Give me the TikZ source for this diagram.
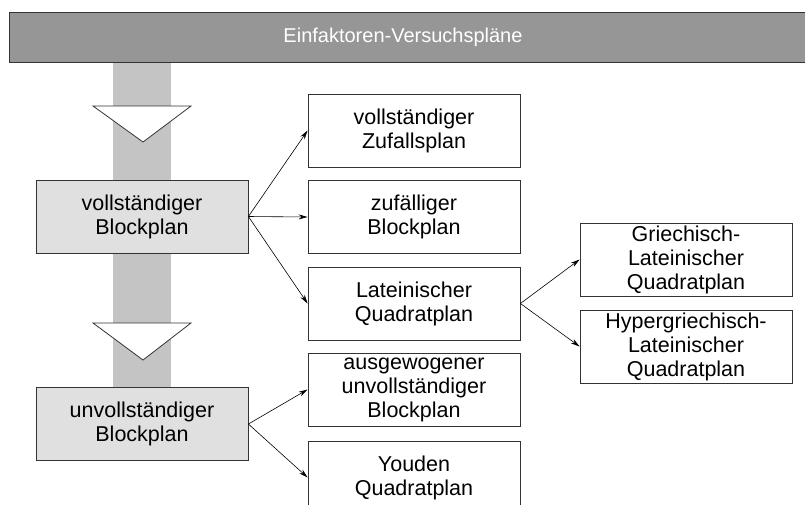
\documentclass[tikz,border=0pt]{standalone}
\usepackage{fontspec}
\setmainfont{Liberation Sans}
\usetikzlibrary{arrows.meta}
\definecolor{barGray}{HTML}{969696}
\definecolor{colGray}{HTML}{C4C4C4}
\definecolor{boxGray}{HTML}{E0E0E0}
\tikzset{
  plan/.style={draw=black!80, line width=0.8pt, fill=white, minimum width=212pt,
    minimum height=73pt, inner sep=0pt, align=center,
    font=\fontsize{21.5}{24}\selectfont},
  mainplan/.style={plan, fill=boxGray},
  down/.style={draw=black!80, line width=0.8pt, fill=white},
  link/.style={-{Stealth[length=9pt,width=5pt]}, line width=0.6pt}
}
\begin{document}
\begin{tikzpicture}[x=1pt, y=-1pt]
      \useasboundingbox (0,0) rectangle (805,504);
      \clip (0,0) rectangle (805,504);
      \fill[colGray] (113,62) rectangle (171,400);
      \draw[draw=black!80, line width=0.8pt, fill=barGray] (9,12) rectangle (815,62);
      \node[text=white, font=\fontsize{20}{23}\selectfont] (title) at (403,37) {Einfaktoren-Versuchspläne};
      \draw[down] (93,106) -- (191,106) -- (143,142) -- cycle;
      \draw[down] (93,323) -- (191,323) -- (143,360) -- cycle;
      \draw
        (142,216.5) node[mainplan] (vbp){vollständiger\\Blockplan}
        (142,424) node[mainplan] (ubp){unvollständiger\\Blockplan}
        (414,130.5) node[plan] (vzp){vollständiger\\Zufallsplan}
        (414,217) node[plan] (zbp){zufälliger\\Blockplan}
        (414,303.5) node[plan] (lqp){Lateinischer\\Quadratplan}
        (414,389.5) node[plan] (aubp){ausgewogener\\unvollständiger\\Blockplan}
        (414,477.5) node[plan] (yqp){Youden\\Quadratplan}
        (686,259.5) node[plan] (glqp){Griechisch-\\Lateinischer\\Quadratplan}
        (686,346.5) node[plan] (hglqp){Hypergriechisch-\\Lateinischer\\Quadratplan};
      \begin{scope}[link]
        \draw (vbp.east) to (vzp.west);
        \draw (vbp.east) to (zbp.west);
        \draw (vbp.east) to (lqp.west);
        \draw (lqp.east) to (glqp.west);
        \draw (lqp.east) to (hglqp.west);
        \draw (ubp.east) to (aubp.west);
        \draw (ubp.east) to (yqp.west);
      \end{scope}
    \end{tikzpicture}
\end{document}
